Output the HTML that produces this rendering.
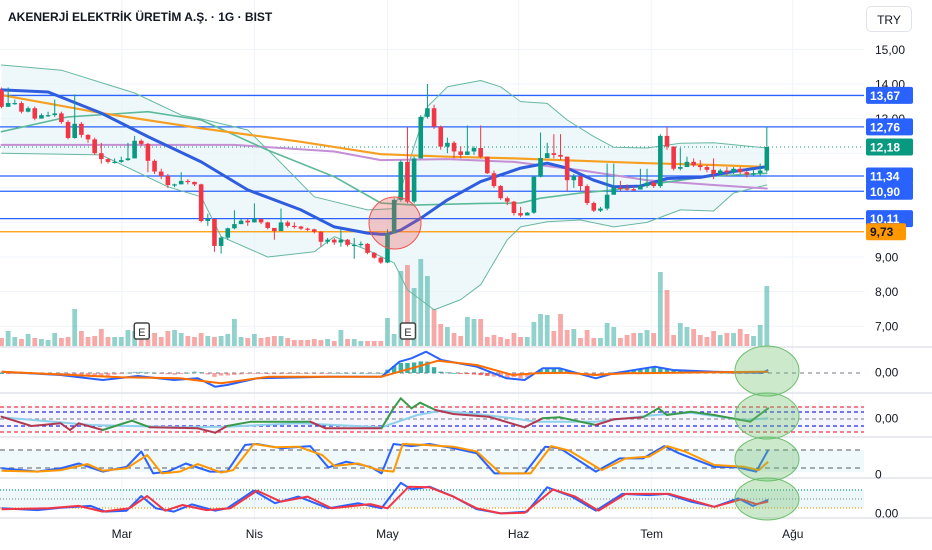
<!DOCTYPE html>
<html><head><meta charset="utf-8">
<style>
html,body{margin:0;padding:0;background:#fff;}
#wrap{position:relative;width:932px;height:550px;overflow:hidden;font-family:"Liberation Sans","Noto Sans CJK JP",sans-serif;}
svg{position:absolute;left:0;top:0;}
#title{position:absolute;left:8px;top:10px;font-size:12px;font-weight:bold;color:#131722;white-space:nowrap;}
#try{position:absolute;left:866px;top:6px;width:46px;height:26px;border:1px solid #e0e3eb;border-radius:5px;font-size:12px;color:#131722;line-height:26px;text-align:center;box-sizing:border-box;background:#fff;}
</style></head>
<body>
<div id="wrap">
<svg id="svg" width="932" height="550"></svg>
<div id="title">AKENERJİ ELEKTRİK ÜRETİM A.Ş. · 1G · BIST</div>
<div id="try">TRY</div>
</div>
<script>
const firstOpen = 13.83;
const closes = [13.34,13.45,13.45,13.2,13.3,13.0,13.1,13.1,13.15,12.9,12.44,12.85,12.53,12.4,12.0,11.83,11.75,11.75,11.8,11.85,12.36,12.27,11.78,11.47,11.34,11.08,11.1,11.2,11.17,11.1,10.04,10.1,9.32,9.56,9.83,9.95,10.05,10.0,10.1,10.0,9.84,9.75,10.0,9.9,9.88,9.82,9.8,9.73,9.44,9.5,9.42,9.5,9.35,9.35,9.38,9.12,8.98,8.84,9.68,10.65,11.75,10.6,11.85,13.05,13.3,12.77,12.19,12.3,12.05,11.95,12.05,12.15,11.9,11.42,11.05,10.7,10.6,10.27,10.2,10.28,11.32,11.86,12.0,11.95,11.9,11.22,11.33,11.05,10.56,10.34,10.4,10.8,11.0,10.98,10.96,10.95,11.05,11.15,11.05,12.5,12.19,11.55,11.6,11.75,11.65,11.6,11.52,11.4,11.5,11.45,11.55,11.45,11.38,11.42,11.5,12.18];
const highs = [13.9,13.9,13.55,13.5,13.35,13.35,13.15,13.2,13.55,13.2,12.95,13.7,12.9,12.55,12.45,12.3,11.85,11.85,11.9,12.3,12.5,12.4,12.3,11.82,11.55,11.4,11.12,11.45,11.25,11.18,11.12,10.25,10.1,9.6,9.85,10.35,10.1,10.1,10.55,10.12,10.02,9.8,10.4,10.05,10.0,9.9,9.85,9.82,9.75,9.55,9.55,9.8,9.52,9.55,9.45,9.4,9.14,9.0,9.8,10.7,11.8,12.75,11.9,13.1,14.0,13.4,12.8,12.45,12.35,12.2,12.8,12.2,12.8,11.9,11.5,11.08,10.75,10.62,10.45,10.3,11.35,12.6,12.3,12.55,12.55,11.9,11.4,11.35,11.1,10.6,10.45,11.7,11.7,11.2,11.1,11.05,11.55,11.55,11.2,12.55,12.76,12.2,12.15,11.9,11.85,11.8,11.65,11.85,11.55,11.6,11.6,11.6,11.5,11.55,11.7,12.76];
const lows = [13.3,13.4,13.4,13.15,13.18,12.95,13.0,13.05,13.05,12.85,12.4,12.42,12.45,12.3,11.95,11.7,11.7,11.7,11.72,11.78,11.85,12.2,11.45,11.4,11.25,11.0,11.02,11.1,11.1,11.05,10.0,9.9,9.15,9.1,9.5,9.8,9.95,9.9,10.0,9.95,9.8,9.5,9.75,9.85,9.82,9.78,9.75,9.68,9.3,9.38,9.35,9.3,9.3,8.95,9.3,9.08,8.95,8.8,8.82,10.3,10.6,10.55,10.55,11.85,13.0,12.7,12.1,12.0,11.85,11.85,11.95,11.95,11.85,11.4,11.0,10.65,10.5,10.2,10.15,10.2,10.25,11.3,11.9,11.85,11.8,10.9,11.0,10.9,10.5,10.3,10.3,10.35,10.8,10.9,10.9,10.9,10.95,11.0,11.0,11.0,12.1,11.5,11.5,11.6,11.6,11.5,11.45,11.25,11.4,11.35,11.4,11.4,11.3,11.35,11.35,11.45];
const volumes = [8,15,9,7,12,8,7,6,13,8,9,37,15,9,10,17,9,9,9,16,15,7,7,13,9,15,16,13,10,9,13,10,9,10,12,27,9,8,12,8,9,10,10,8,6,6,6,7,6,7,5,16,7,7,5,5,5,5,28,12,75,81,58,87,70,37,22,19,13,10,29,27,27,9,11,9,7,13,9,9,24,32,31,15,32,16,17,8,16,8,8,23,19,8,11,13,13,16,13,74,56,11,23,19,17,11,9,15,11,13,13,17,12,10,21,60];

const emaIdx = [0,7,15,22,30,37,45,50,55,57,58,60,63,67,72,78,82,85,89,92,96,100,105,110,115];
const emaVal = [13.83,13.77,13.16,12.48,11.75,10.94,10.36,9.87,9.69,9.66,9.66,9.78,10.12,10.65,11.18,11.57,11.71,11.57,11.22,11.03,11.05,11.27,11.3,11.47,11.61];
const maOrIdx = [0,15,30,45,57,67,77,87,97,107,115];
const maOrVal = [13.68,13.16,12.72,12.33,11.97,11.9,11.85,11.78,11.71,11.66,11.6];
const maPuIdx = [0,35,50,57,67,77,87,97,107,115];
const maPuVal = [12.24,12.24,12.05,11.8,11.83,11.75,11.51,11.22,11.08,10.98];
const bbUpIdx = [0,9,20,27,30,37,42,47,55,59,60,62,64,67,72,75,78,82,85,89,92,97,102,107,115];
const bbUpVal = [14.55,14.4,13.74,13.1,12.99,12.67,11.72,10.74,10.36,10.4,10.94,12.2,13.34,13.92,14.1,13.92,13.49,13.44,12.96,12.48,12.17,12.15,12.29,12.3,12.15];
const bbMidIdx = [0,10,22,30,40,50,57,62,72,78,81,87,92,97,102,107,115];
const bbMidVal = [12.62,13.05,13.2,12.96,12.09,11.32,10.56,10.5,10.55,10.56,10.7,10.85,10.94,11.08,11.22,11.34,11.42];
const bbLoIdx = [0,15,25,30,33,40,47,50,55,59,61,65,69,72,76,78,82,87,92,97,102,107,110,115];
const bbLoVal = [12.0,11.95,11.03,10.74,9.59,9.0,9.15,9.59,9.2,8.83,8.05,7.47,7.77,8.2,9.5,9.87,10.02,10.07,9.87,10.0,10.36,10.33,10.85,11.08];

const levels = [13.67,12.76,11.34,10.90,10.11];
const levelLabels = ["13,67","12,76","11,34","10,90","10,11"];
const supportLevel = 9.73;
const lastPrice = 12.18;
const priceTicks = [15,14,13,9,8,7];
const priceTickLabels = ["15,00","14,00","13,00","9,00","8,00","7,00"];
const monthIdx = [18.1,38,58,77.7,97.7,118.9];
const monthLabels = ["Mar","Nis","May","Haz","Tem","Ağu"];
const earningsIdx = [21,61];

const macdIdx = [0,8.9,15.2,20.5,25.9,29.5,32.1,33.9,38.4,49.1,57.1,59.8,61.6,63.8,66.1,71.4,75.9,78.6,81.3,83.9,86.6,89.3,92,98.2,100.9,107.1,114.3,115.2];
const macdVal = [1.3,-2,-7,-3,-7,-5.3,-13.7,-12,-5.3,-3.7,-3.7,11.3,14.7,21.3,13,6.3,-5.3,-7,4.7,4.7,-0.3,-5.3,-0.3,6.3,3,1.3,0.3,3];
const sigIdx = [0,17.9,26.8,33,40.2,57.1,62.5,65.6,71.4,76.8,80.4,84.8,89.3,93.8,107.1,115.2];
const sigVal = [1.3,-4.3,-5.3,-10.3,-3.7,-3.7,6.3,12.3,8,-2,-0.3,0.3,-2,-0.3,0.7,1.3];

const osc2Idx = [0,4.5,8.9,10.3,11.6,15.2,19.6,22.3,29.5,32.1,33.9,37.5,46.4,48.7,57.1,58.9,60,61.6,62.9,65.2,67.9,73.2,78.6,81.3,83.9,89.3,92,96.4,98.7,100,103.6,107.1,112.5,115.2];
const osc2Val = [2.3,-7,-4.3,-11,-4.3,-11,-1.7,-8.3,-9.3,-13.7,-7,-2.7,-2.7,-9.3,-9.3,10.7,20.7,10.7,16.3,9,5,2.3,-8.3,0.7,1.7,-6,-0.3,1.7,10.7,4,7.3,4,-2.7,10.7];
const osc2MaIdx = [0,13.4,26.8,33.9,44.6,57.1,62.5,66.1,71.4,76.8,80.4,89.3,98.2,103.6,111.6,115.2];
const osc2MaVal = [1.7,-6,-8.3,-7.7,-4.3,-8.3,4,8.3,5,0.7,-2.7,-2.7,4,6.3,-1,0.7];

const stKIdx = [0,5.4,8.9,11.6,15.2,18.8,21,22.8,25,27.7,31.3,33.9,36.6,38.4,42,46.4,49.1,51.8,55.4,57.1,58.9,61.6,64.3,67.9,71.4,74.1,78.6,81.7,83.9,89.3,92.9,96.4,99.6,101.8,107.1,110.7,113.4,115.2];
const stKVal = [19,8,19,35,8,24,75,2,8,35,8,8,97,100,86,93,22,41,24,2,100,93,100,86,69,2,2,91,86,8,52,52,93,69,24,22,8,80];
const stDIdx = [0,5.4,8.9,12.9,15.2,18.8,21.9,24.1,26.8,29.5,33,34.8,37.9,41.1,44.6,48.2,50,53.6,56.7,58.9,60.3,63.4,67.9,71.4,75,79.5,82.6,85.3,90.2,93.8,97.3,100,102.7,107.1,111.6,113.8,115.2];
const stDVal = [11,8,13,33,11,19,63,2,8,33,5,13,100,89,91,63,27,35,13,8,100,97,91,75,2,2,93,78,13,52,58,93,75,30,24,13,41];

const rsKIdx = [0,5.4,8.9,13.4,15.6,18.8,21,23.2,25.9,28.6,32.1,33.9,37.9,41.1,44.6,49.1,53.6,57.1,60,61.6,64.3,67.9,71.4,75,79,82,85.7,89.3,93.3,97.3,100,103.6,107.1,110.7,112.9,115.2];
const rsKVal = [19,13,21,27,8,11,60,19,8,32,11,19,78,36,58,19,36,19,104,82,91,58,16,2,8,89,58,11,67,63,67,41,24,52,27,47];
const rsDIdx = [0,7.1,11.6,15.2,19.2,21.9,24.6,27.2,30.8,34.4,38.4,42,46,49.6,55.4,58,61.2,64.3,67.9,71.4,75,78.6,82.9,86.2,89.7,93.8,100.4,107.1,111.2,113.4,115.2];
const rsDVal = [16,19,27,8,19,60,11,30,13,19,78,41,58,19,33,19,91,89,58,19,2,4,82,58,11,67,67,24,49,33,41];

const NS = "http://www.w3.org/2000/svg";
const svg = document.getElementById("svg");
function mk(tag, attrs, parent){
  const e = document.createElementNS(NS, tag);
  for (const k in attrs) e.setAttribute(k, attrs[k]);
  (parent||svg).appendChild(e);
  return e;
}
function X(i){ return 1.5 + 6.655*i; }
function Y(p){ return 84 + (14 - p)*34.6; }
function pts(idx, val, yf){ return idx.map((d,k)=>X(d).toFixed(1)+","+yf(val[k]).toFixed(1)).join(" "); }
function interp(idx, val, t){
  if (t<=idx[0]) return val[0];
  for (let k=1;k<idx.length;k++){ if (t<=idx[k]){ const f=(t-idx[k-1])/(idx[k]-idx[k-1]); return val[k-1]+f*(val[k]-val[k-1]); } }
  return val[val.length-1];
}
const W = 864;

// price grid
for (let p=7;p<=15;p++){
  const g = mk("line",{x1:0,x2:W,y1:Y(p),y2:Y(p),stroke:"#f0f3fa","stroke-width":1});
  
  
}
monthIdx.forEach((d,k)=>{
  const g = mk("line",{x1:X(d),x2:X(d),y1:0,y2:520,stroke:"#f0f3fa","stroke-width":1});
  
  
});

// Bollinger fill
const bbPoly = pts(bbUpIdx,bbUpVal,Y)+" "+bbLoIdx.map((d,k)=>X(d).toFixed(1)+","+Y(bbLoVal[k]).toFixed(1)).reverse().join(" ");
const bbf = mk("polygon",{points:bbPoly,fill:"#e3f4f8","fill-opacity":0.6});



// volume bars
volumes.forEach((v,i)=>{
  const o = i===0?firstOpen:closes[i-1];
  const up = closes[i]>=o;
  const r = mk("rect",{x:X(i)-2.4,y:346-v,width:4.8,height:v,fill:up?"#26a69a":"#ef5350","fill-opacity":0.5});
  
  
});

// horizontal levels
levels.forEach(l=>{
  const ln = mk("line",{x1:0,x2:W,y1:Y(l),y2:Y(l),stroke:"#2962ff","stroke-width":1.3});
  
  
});
const sl = mk("line",{x1:0,x2:W,y1:Y(supportLevel),y2:Y(supportLevel),stroke:"#ff9800","stroke-width":1.3});


const lp = mk("line",{x1:0,x2:W,y1:Y(lastPrice),y2:Y(lastPrice),stroke:"#089981","stroke-width":1,"stroke-dasharray":"1,3"});



// overlay lines
function line(idx,val,col,w,name){
  const e = mk("polyline",{points:pts(idx,val,Y),fill:"none",stroke:col,"stroke-width":w,"stroke-linejoin":"round","stroke-linecap":"round"});
  return e;
}
let e;
e = line(bbUpIdx,bbUpVal,"#67b8a0",1);


e = line(bbLoIdx,bbLoVal,"#67b8a0",1);


e = line(maPuIdx,maPuVal,"#c48fd4",2);


e = line(bbMidIdx,bbMidVal,"#5dba98",1.6);


e = line(maOrIdx,maOrVal,"#f5a023",2.2);


e = line(emaIdx,emaVal,"#2f5de0",3);



// candles
closes.forEach((c,i)=>{
  const o = i===0?firstOpen:closes[i-1];
  const up = c>=o;
  const col = up?"#089981":"#f23645";
  const w = mk("line",{x1:X(i),x2:X(i),y1:Y(highs[i]),y2:Y(lows[i]),stroke:col,"stroke-width":1});
  
  
  const top = Y(Math.max(o,c)), bot = Y(Math.min(o,c));
  const b = mk("rect",{x:X(i)-2.3,y:top,width:4.6,height:Math.max(1.2,bot-top),fill:col});
  
  
});

// red circle marker
const rc = mk("circle",{cx:395,cy:223,r:26,fill:"#ef5350","fill-opacity":0.3,stroke:"#ef5350","stroke-width":1});



// earnings markers
earningsIdx.forEach(d=>{
  const g = mk("g",{});
  
  
  mk("rect",{x:X(d)-7,y:323,width:15,height:16,rx:2,fill:"#fff",stroke:"#444","stroke-width":1.5},g);
  const t = mk("text",{x:X(d)+0.5,y:336,"font-size":11,"text-anchor":"middle",fill:"#333","font-family":"Liberation Sans, sans-serif"},g);
  t.textContent="E";
});

// price axis labels
priceTicks.forEach((p,k)=>{
  const t = mk("text",{x:875,y:Y(p)+4.5,"font-size":12,fill:"#131722","font-family":"Liberation Sans, sans-serif"});
  t.textContent = priceTickLabels[k];
  
  
});
function tag(p,text,col,w,name){
  const g = mk("g",{});
  
  
  mk("rect",{x:866,y:Y(p)-8.5,width:w,height:17,rx:2,fill:col},g);
  const t = mk("text",{x:870,y:Y(p)+4.5,"font-size":12,"font-weight":"bold",fill:col==="#ff9800"?"#131722":"#fff","font-family":"Liberation Sans, sans-serif"},g);
  t.textContent = text;
}
levels.forEach((l,k)=>tag(l,levelLabels[k],"#2962ff",47,"level-label"));
tag(lastPrice,"12,18","#089981",47,"last-price-label");
tag(supportLevel,"9,73","#ff9800",40,"support-label");

// sub panes
[347,393,437,478,518].forEach(y=>{
  const s = mk("line",{x1:0,x2:932,y1:y,y2:y,stroke:"#e0e3eb","stroke-width":1.5});
  
  
});
// pane backgrounds / levels
let r;
r = mk("rect",{x:0,y:407,width:W,height:25,fill:"#7b7bff","fill-opacity":0.07});


r = mk("rect",{x:0,y:450,width:W,height:22,fill:"#21a0c8","fill-opacity":0.07});


r = mk("rect",{x:0,y:490,width:W,height:18,fill:"#21a0c8","fill-opacity":0.08});


function hl(y,col,dash,name){
  const l = mk("line",{x1:0,x2:W,y1:y,y2:y,stroke:col,"stroke-width":1.2,"stroke-dasharray":dash});
  
  
}
hl(373,"#9598a1","4,4","macd-zero-line");
hl(407,"#f23645","4,3","osc2-upper-line");
hl(412,"#2929e0","4,3","osc2-upper-inner-line");
hl(419,"#9598a1","4,3","osc2-zero-line");
hl(426,"#2929e0","4,3","osc2-lower-inner-line");
hl(432,"#f23645","4,3","osc2-lower-line");
hl(450,"#787b86","5,4","stoch-upper-line");
hl(468,"#787b86","5,4","stoch-lower-line");
hl(490,"#089981","1,2","stochrsi-upper-line");
hl(499,"#9598a1","1,2","stochrsi-mid-line");
hl(508,"#ff9800","1,2","stochrsi-lower-line");

// MACD histogram
for (let i=0;i<closes.length;i++){
  const h = interp(macdIdx,macdVal,i)-interp(sigIdx,sigVal,i);
  const hv = interp(macdIdx,macdVal,i) >= 0;
  const col = h>=0 ? "#26a69a" : "#ef5350";
  const y0 = 373, y1 = 373 - h;
  const b = mk("rect",{x:X(i)-2.2,y:Math.min(y0,y1),width:4.4,height:Math.max(0.8,Math.abs(h)),fill:col,"fill-opacity":hv?0.9:0.55});
  
  
}
function sub(idx,val,yf,col,w,name){
  const p = mk("polyline",{points:pts(idx,val,yf),fill:"none",stroke:col,"stroke-width":w,"stroke-linejoin":"round"});
  
  
}
const macdY = v=>373-v;
sub(macdIdx,macdVal,macdY,"#2962ff",2,"macd-line");
sub(sigIdx,sigVal,macdY,"#ff6d00",2,"macd-signal-line");

const o2Y = v=>419-v;
sub(osc2MaIdx,osc2MaVal,o2Y,"#8fd0ea",2,"osc2-signal-line");
for (let k=1;k<osc2Idx.length;k++){
  const mid=(osc2Idx[k]+osc2Idx[k-1])/2;
  const above = (osc2Val[k]+osc2Val[k-1])/2 >= interp(osc2MaIdx,osc2MaVal,mid);
  const s = mk("line",{x1:X(osc2Idx[k-1]),y1:o2Y(osc2Val[k-1]),x2:X(osc2Idx[k]),y2:o2Y(osc2Val[k]),stroke:above?"#3a9a4a":"#b03a52","stroke-width":2,"stroke-linecap":"round"});
  
  
}
const stY = v=>474-v*0.3;
sub(stKIdx,stKVal,stY,"#2962ff",2,"stoch-k-line");
sub(stDIdx,stDVal,stY,"#ff9800",2,"stoch-d-line");
const rsY = v=>514-v*0.3;
sub(rsKIdx,rsKVal,rsY,"#2962ff",2,"stochrsi-k-line");
sub(rsDIdx,rsDVal,rsY,"#f23645",2,"stochrsi-d-line");

// green bubbles
[[371,25],[416,23],[459,22],[499,21]].forEach(c=>{
  const el = mk("ellipse",{cx:767,cy:c[0],rx:32,ry:c[1],fill:"#6dbf6d","fill-opacity":0.35,stroke:"#6dbf6d","stroke-width":1});
  
  
});

// sub-pane labels
[[372,"0,00"],[418,"0,00"],[474,"0"],[513,"0.00"]].forEach(a=>{
  const t = mk("text",{x:875,y:a[0]+4.5,"font-size":12,fill:"#131722","font-family":"Liberation Sans, sans-serif"});
  t.textContent=a[1];
  
  
});
// month labels
monthIdx.forEach((d,k)=>{
  const t = mk("text",{x:X(d),y:538,"font-size":12,"text-anchor":"middle",fill:"#131722","font-family":"Liberation Sans, sans-serif"});
  t.textContent=monthLabels[k];
  
  
});
</script>
</body></html>
